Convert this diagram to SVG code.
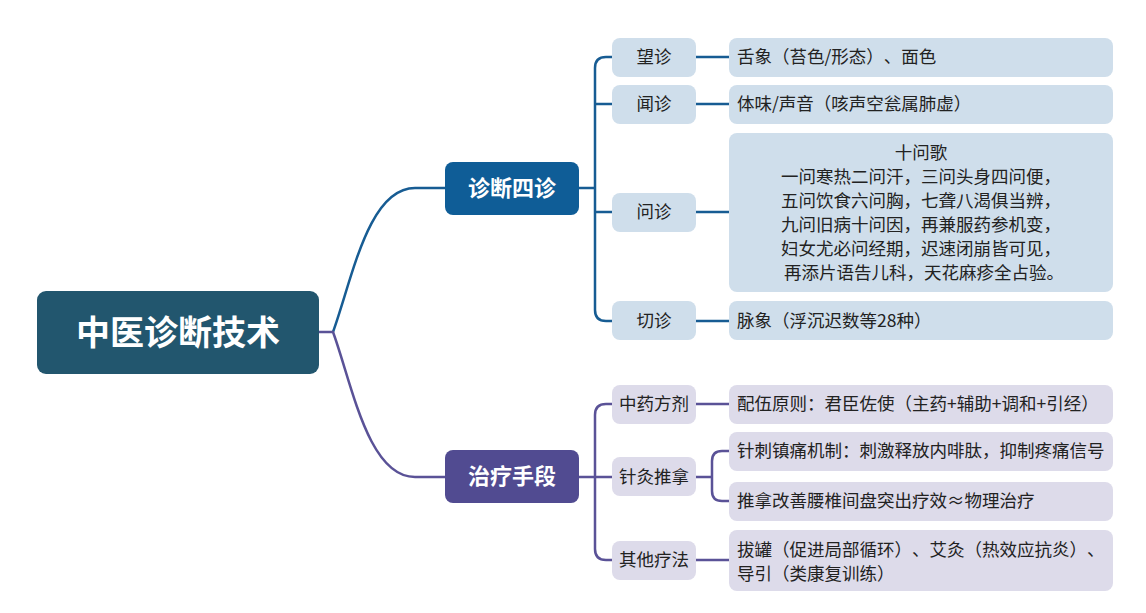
<svg xmlns="http://www.w3.org/2000/svg" width="1146" height="613" viewBox="0 0 1146 613">
<style>
text{font-family:"Noto Sans CJK SC","Noto Sans",sans-serif;fill:#222;font-size:17.5px;text-spacing-trim:space-all}
.t{font-weight:bold;fill:#fff;text-anchor:middle}
.c{text-anchor:middle}
.lb{fill:#cfdeeb}
.lp{fill:#dddbea}
.sb{fill:none;stroke:#175c93;stroke-width:2.5}
.sp{fill:none;stroke:#5a5297;stroke-width:2.5}
</style>
<rect width="1146" height="613" fill="#fff"/>
<g id="connectors">
<path class="sb" d="M333,332 C352,280 368,188 415,188 H445"/>
<path class="sp" d="M319,332 H333 C352,384 368,477 415,477 H445"/>
<path class="sb" d="M579,188 H595 M612,57 H606 Q595,57 595,68 V310 Q595,321 606,321 H612 M595,104 H612 M595,212 H612"/>
<path class="sb" d="M696,57 H729 M696,104 H729 M696,212 H729 M696,321 H729"/>
<path class="sp" d="M579,477 H595 M612,404 H606 Q595,404 595,415 V549 Q595,560 606,560 H612 M595,477 H612"/>
<path class="sp" d="M696,404 H729 M696,560 H729 M696,477 H712 M729,451 H722 Q712,451 712,461 V491 Q712,501 722,501 H729"/>
</g>
<g id="root"><rect x="37" y="291" width="282" height="83" rx="9" fill="#22566e"/><text class="t" x="178" y="345" style="font-size:34px">中医诊断技术</text></g>
<g id="zhenduan"><rect x="445" y="162" width="134" height="53" rx="8" fill="#0f5d97"/><text class="t" x="512" y="196" style="font-size:22px">诊断四诊</text></g>
<g id="zhiliao"><rect x="445" y="450" width="134" height="53" rx="8" fill="#514b91"/><text class="t" x="512" y="484" style="font-size:22px">治疗手段</text></g>
<g id="wang"><rect class="lb" x="612" y="38" width="84" height="39" rx="8"/><text class="c" x="654" y="63">望诊</text></g>
<g id="wang-leaf"><rect class="lb" x="729" y="38" width="384" height="39" rx="8"/><text x="737" y="63">舌象（苔色/形态）、面色</text></g>
<g id="wen1"><rect class="lb" x="612" y="85" width="84" height="39" rx="8"/><text class="c" x="654" y="110">闻诊</text></g>
<g id="wen1-leaf"><rect class="lb" x="729" y="85" width="384" height="39" rx="8"/><text x="737" y="110">体味/声音（咳声空瓮属肺虚）</text></g>
<g id="wen2"><rect class="lb" x="612" y="193" width="84" height="39" rx="8"/><text class="c" x="654" y="218">问诊</text></g>
<g id="wen2-leaf"><rect class="lb" x="729" y="133" width="384" height="159" rx="8"/>
<text class="c" x="921" y="159">十问歌</text>
<text class="c" x="921" y="183">一问寒热二问汗，三问头身四问便，</text>
<text class="c" x="921" y="207">五问饮食六问胸，七聋八渴俱当辨，</text>
<text class="c" x="921" y="231">九问旧病十问因，再兼服药参机变，</text>
<text class="c" x="921" y="255">妇女尤必问经期，迟速闭崩皆可见，</text>
<text class="c" x="924" y="279">再添片语告儿科，天花麻疹全占验。</text></g>
<g id="qie"><rect class="lb" x="612" y="301" width="84" height="39" rx="8"/><text class="c" x="654" y="327">切诊</text></g>
<g id="qie-leaf"><rect class="lb" x="729" y="301" width="384" height="39" rx="8"/><text x="737" y="327">脉象（浮沉迟数等28种）</text></g>
<g id="zhongyao"><rect class="lp" x="612" y="385" width="84" height="39" rx="8"/><text class="c" x="654" y="410">中药方剂</text></g>
<g id="zhongyao-leaf"><rect class="lp" x="729" y="385" width="384" height="39" rx="8"/><text x="737" y="410">配伍原则：君臣佐使（主药+辅助+调和+引经）</text></g>
<g id="zhenjiu"><rect class="lp" x="612" y="457" width="84" height="39" rx="8"/><text class="c" x="654" y="483">针灸推拿</text></g>
<g id="zhenjiu-leaf1"><rect class="lp" x="729" y="432" width="384" height="39" rx="8"/><text x="737" y="457">针刺镇痛机制：刺激释放内啡肽，抑制疼痛信号</text></g>
<g id="zhenjiu-leaf2"><rect class="lp" x="729" y="482" width="384" height="39" rx="8"/><text x="737" y="507">推拿改善腰椎间盘突出疗效≈物理治疗</text></g>
<g id="qita"><rect class="lp" x="612" y="541" width="84" height="39" rx="8"/><text class="c" x="654" y="566">其他疗法</text></g>
<g id="qita-leaf"><rect class="lp" x="729" y="530" width="384" height="61" rx="8"/><text x="737" y="556">拔罐（促进局部循环）、艾灸（热效应抗炎）、</text><text x="737" y="580">导引（类康复训练）</text></g>
</svg>
